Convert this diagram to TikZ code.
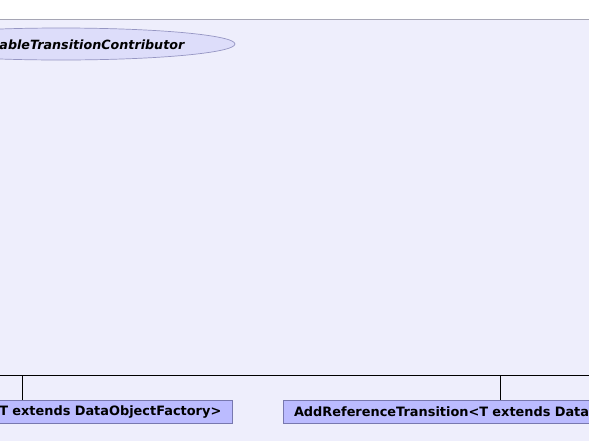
\documentclass[tikz,border=0pt]{standalone}
\usepackage{fontspec}
\setsansfont{DejaVu Sans}
\usetikzlibrary{shapes.geometric}
\definecolor{bg}{RGB}{238,238,252}
\definecolor{topline}{RGB}{165,165,180}
\definecolor{boxfill}{RGB}{187,187,255}
\definecolor{boxdraw}{RGB}{120,120,175}
\definecolor{ellfill}{RGB}{221,221,250}
\definecolor{elldraw}{RGB}{150,150,195}
\tikzset{
  lbl/.style={font=\sffamily\bfseries\fontsize{12.9}{15}\selectfont},
  classbox/.style={lbl, draw=boxdraw, fill=boxfill, line width=0.8pt, minimum height=23.3, inner xsep=11, inner ysep=0},
  conn/.style={draw=black, line width=0.9pt},
}
\begin{document}
\begin{tikzpicture}[x=1pt,y=-1pt]
\useasboundingbox (0,0) rectangle (589,440);
\fill[white] (0,0) rectangle (589,19.5);
\draw[fill=bg, draw=topline, line width=0.9pt] (-5,19.5) rectangle (594,445);
\node[ellipse, draw=elldraw, fill=ellfill, line width=0.7pt, minimum width=348, minimum height=32, inner sep=0] (ell) at (61,44) {};
\node[font=\sffamily\bfseries\itshape\fontsize{12.7}{15}\selectfont, anchor=east, inner sep=0] (elltext) at (184.5,44.5) {ableTransitionContributor};
\node[classbox, text width=398, align=right] (leftbox) at (22.3,411.8) {T extends DataObjectFactory>};
\node[classbox, text width=412.6, align=left] (rightbox) at (500.3,411.8) {AddReferenceTransition<T extends Data};
\coordinate (busL) at (-5,375.3);
\coordinate (busR) at (594,375.3);
\draw[conn] (busL) -- (busR);
\draw[conn] (leftbox.north) -- (leftbox.north |- busL);
\draw[conn] (rightbox.north) -- (rightbox.north |- busL);
\end{tikzpicture}
\end{document}
